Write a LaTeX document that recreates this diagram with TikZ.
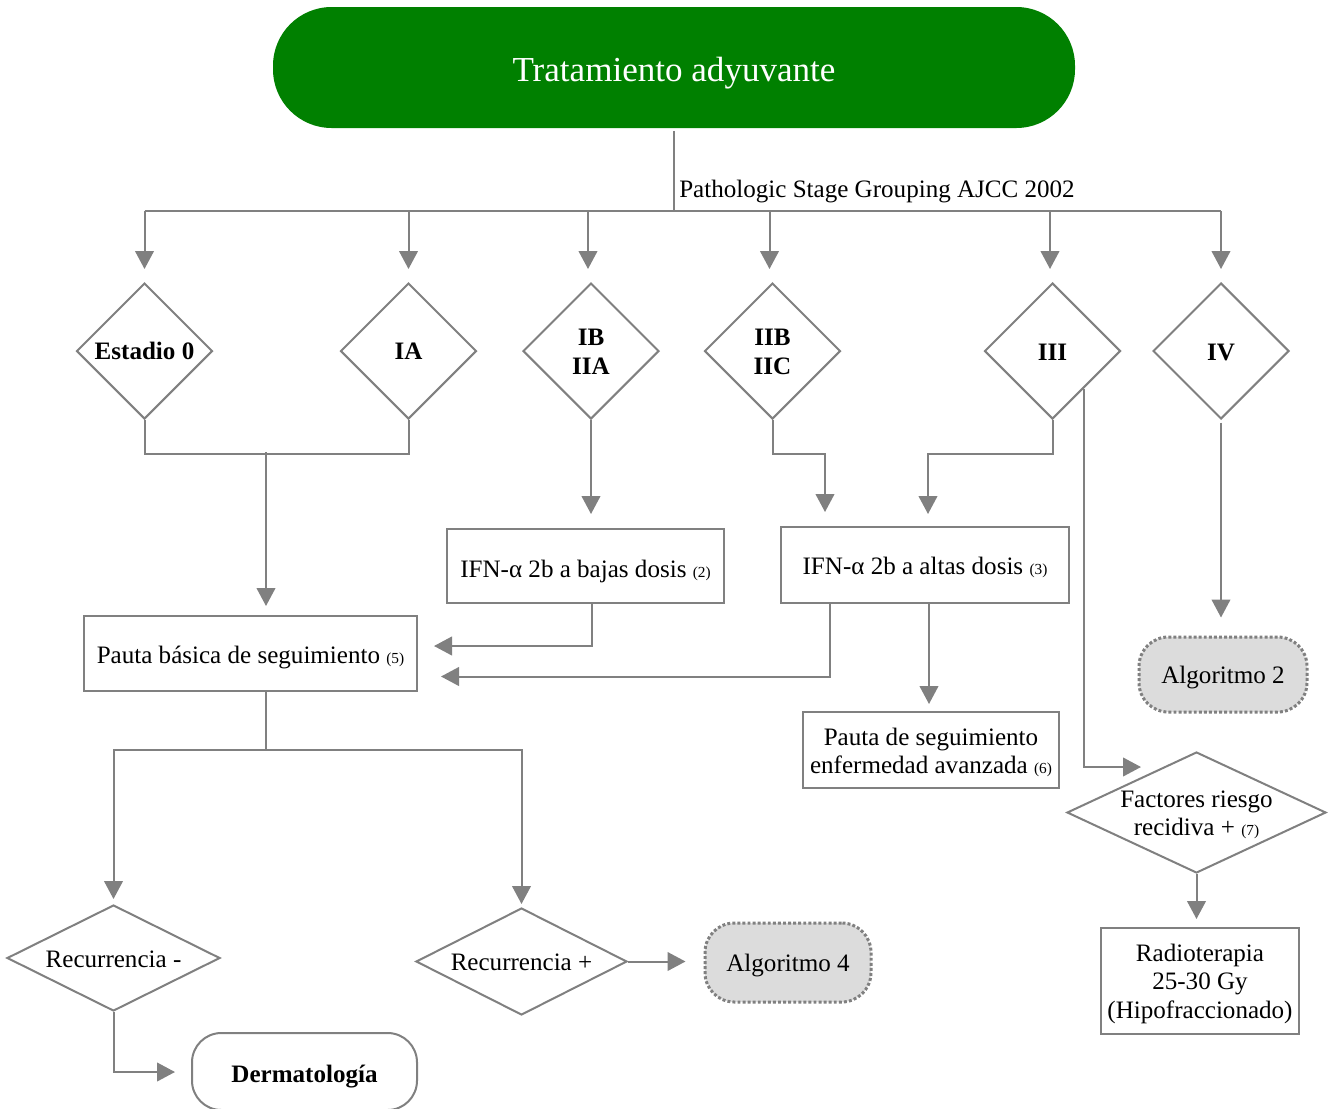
\documentclass[tikz,border=0pt]{standalone}
\usepackage{fontspec}
\setmainfont{Liberation Serif}
\usetikzlibrary{shapes.geometric,arrows.meta,calc}
\definecolor{lgray}{HTML}{808080}
\definecolor{tgreen}{HTML}{008000}
\definecolor{agray}{HTML}{DCDCDC}
\newcommand\mainsz{\fontsize{18.8}{21.4}\selectfont}
\newcommand\numsz[1]{{\fontsize{11.5}{13}\selectfont #1}}
\newcommand\twol[2]{\begin{tabular}[t]{@{}c@{}}#1\\#2\end{tabular}}
\newcommand\threel[3]{\begin{tabular}[t]{@{}c@{}}#1\\#2\\#3\end{tabular}}
\begin{document}
\begin{tikzpicture}[x=0.75pt,y=-0.75pt,
  ln/.style={draw=lgray,line width=1.5pt},
  arr/.style={ln,-{Triangle[length=13.5pt,width=14pt]}},
  boxs/.style={rectangle,draw=lgray,line width=1.5pt,fill=white,inner sep=0pt},
  dias/.style={diamond,draw=lgray,line width=1.5pt,fill=white,inner sep=0pt},
  algs/.style={rectangle,rounded corners=22pt,fill=agray,draw=lgray,line width=2.25pt,dash pattern=on 2.2pt off 1.6pt,inner sep=0pt},
  txt/.style={anchor=base,inner sep=0pt,font=\mainsz},
  btxt/.style={anchor=base,inner sep=0pt,font=\mainsz\bfseries},
]
\useasboundingbox (0,0) rectangle (1329,1108);

% title
\node[fill=tgreen,rounded corners=44pt,minimum width=601.5pt,minimum height=90.75pt,inner sep=0pt] (title) at (674,67.5) {};
\node[txt,text=white,font=\fontsize{26.3}{30}\selectfont] (titlet) at (674,81) {Tratamiento adyuvante};

% stage diamonds
\node[dias,minimum width=102pt,minimum height=102pt] (d0) at (144.5,351) {};
\node[dias,minimum width=102pt,minimum height=102pt] (dIA) at (408.5,351) {};
\node[dias,minimum width=102pt,minimum height=102pt] (dIB) at (591,351) {};
\node[dias,minimum width=102pt,minimum height=102pt] (dIIB) at (772.5,351) {};
\node[dias,minimum width=102pt,minimum height=102pt] (dIII) at (1052.5,351) {};
\node[dias,minimum width=102pt,minimum height=102pt] (dIV) at (1221,351) {};
\node[btxt] (t0) at (144.5,359.5) {Estadio 0};
\node[btxt] (tIA) at (408.5,359.5) {IA};
\node[btxt] (tIB) at (591,345.5) {\twol{IB}{IIA}};
\node[btxt] (tIIB) at (772.5,345.5) {\twol{IIB}{IIC}};
\node[btxt] (tIII) at (1052.5,360) {III};
\node[btxt] (tIV) at (1221,360) {IV};

% boxes
\node[boxs,minimum width=249.75pt,minimum height=56.25pt] (pb) at (250.5,653.5) {};
\node[txt] (pbt) at (250.5,663) {Pauta básica de seguimiento \numsz{(5)}};
\node[boxs,minimum width=207.75pt,minimum height=55.5pt] (ifnb) at (585.5,566) {};
\node[txt] (ifnbt) at (585.5,577) {IFN-α 2b a bajas dosis \numsz{(2)}};
\node[boxs,minimum width=216pt,minimum height=57pt] (ifna) at (925,565) {};
\node[txt] (ifnat) at (925,574) {IFN-α 2b a altas dosis \numsz{(3)}};
\node[boxs,minimum width=192pt,minimum height=57pt] (pa) at (931,750) {};
\node[txt] (pat) at (931,745) {\twol{Pauta de seguimiento}{enfermedad avanzada \numsz{(6)}}};
\node[algs,minimum width=126pt,minimum height=56.25pt] (alg2) at (1223,674.5) {};
\node[txt] (alg2t) at (1223,683) {Algoritmo 2};
\node[dias,minimum width=194.25pt,minimum height=90.75pt] (fr) at (1196.5,812.5) {};
\node[txt] (frt) at (1196.5,807) {\twol{Factores riesgo}{recidiva + \numsz{(7)}}};
\node[boxs,minimum width=148.5pt,minimum height=79.5pt] (radio) at (1200,981) {};
\node[txt] (radiot) at (1200,961) {\threel{Radioterapia}{25-30 Gy}{(Hipofraccionado)}};
\node[dias,minimum width=159.75pt,minimum height=79.5pt] (rm) at (113.5,958) {};
\node[txt] (rmt) at (113.5,967) {Recurrencia -};
\node[dias,minimum width=158.25pt,minimum height=80.25pt] (rp) at (521.5,961.5) {};
\node[txt] (rpt) at (521.5,970) {Recurrencia +};
\node[algs,minimum width=124.5pt,minimum height=59.25pt] (alg4) at (788,962.5) {};
\node[txt] (alg4t) at (788,971) {Algoritmo 4};
\node[boxs,rounded corners=22pt,minimum width=168.75pt,minimum height=57.75pt] (derm) at (304.5,1071.5) {};
\node[btxt] (dermt) at (304.5,1082) {Dermatología};

% bus
\coordinate (bc) at (674,211);
\coordinate (b0) at (144.5,211);
\coordinate (b1) at (408.5,211);
\coordinate (b2) at (588,211);
\coordinate (b3) at (769.5,211);
\coordinate (b4) at (1050,211);
\coordinate (b5) at (1221,211);
\draw[ln,shorten <=2pt] (title.south) -- (bc);
\draw[ln] (b0) -- (b5);
\node[txt,anchor=base west] (ajcc) at (679,197) {Pathologic Stage Grouping AJCC 2002};
\draw[arr,shorten >=9.75pt] (b0) -- (d0.north);
\draw[arr,shorten >=9.75pt] (b1) -- (dIA.north);
\draw[arr,shorten >=9.75pt] (b2) -- (b2 |- dIB.north);
\draw[arr,shorten >=9.75pt] (b3) -- (b3 |- dIIB.north);
\draw[arr,shorten >=9.75pt] (b4) -- (b4 |- dIII.north);
\draw[arr,shorten >=9.75pt] (b5) -- (dIV.north);

% stage connections
\draw[ln] (d0.south) -- ++(0,34) -| (dIA.south);
\coordinate (j1) at (266,452);
\draw[arr,shorten >=6.75pt] (j1) -- (j1 |- pb.north);
\draw[arr,shorten >=10.5pt] (dIB.south) -- (dIB.south |- ifnb.north);
\draw[arr,shorten >=10.5pt] (dIIB.south) -- ++(0,34) -| ($(ifna.north west)+(45,0)$);
\draw[arr,shorten >=9pt] (dIII.south) -- ++(0,34) -| ($(ifna.north west)+(148,0)$);
\draw[arr] ($(ifnb.south)+(6.5,0)$) |- ($(pb.east)+(16,-7.5)$);
\draw[arr] ($(ifna.south west)+(50,0)$) |- ($(pb.east)+(23,23)$);
\coordinate (ia2) at ($(ifna.south)+(4,0)$);
\draw[arr,shorten >=5.25pt] (ia2) -- (ia2 |- pa.north);
\coordinate (iiiR) at ($(dIII.east)!0.55!(dIII.south)$);
\coordinate (frin) at ($(fr.west)+(75,-45.5)$);
\draw[arr] (iiiR) |- (frin);
\draw[arr,shorten >=6pt] (fr.south) -- (fr.south |- radio.north);
\draw[arr,shorten <=2pt,shorten >=13.5pt] (dIV.south) -- (dIV.south |- alg2.north);

% lower part
\coordinate (j2) at (266,750);
\draw[ln] (j2 |- pb.south) -- (j2);
\draw[arr,shorten >=3.75pt] (j2) -| (rm.north);
\draw[arr,shorten >=2.25pt] (j2) -| (rp.north);
\draw[arr,shorten >=13.5pt] (rp.east) -- (rp.east -| alg4.west);
\draw[arr,shorten >=12pt] (rm.south) |- ($(derm.west)+(0,0.5)$);
\end{tikzpicture}
\end{document}
